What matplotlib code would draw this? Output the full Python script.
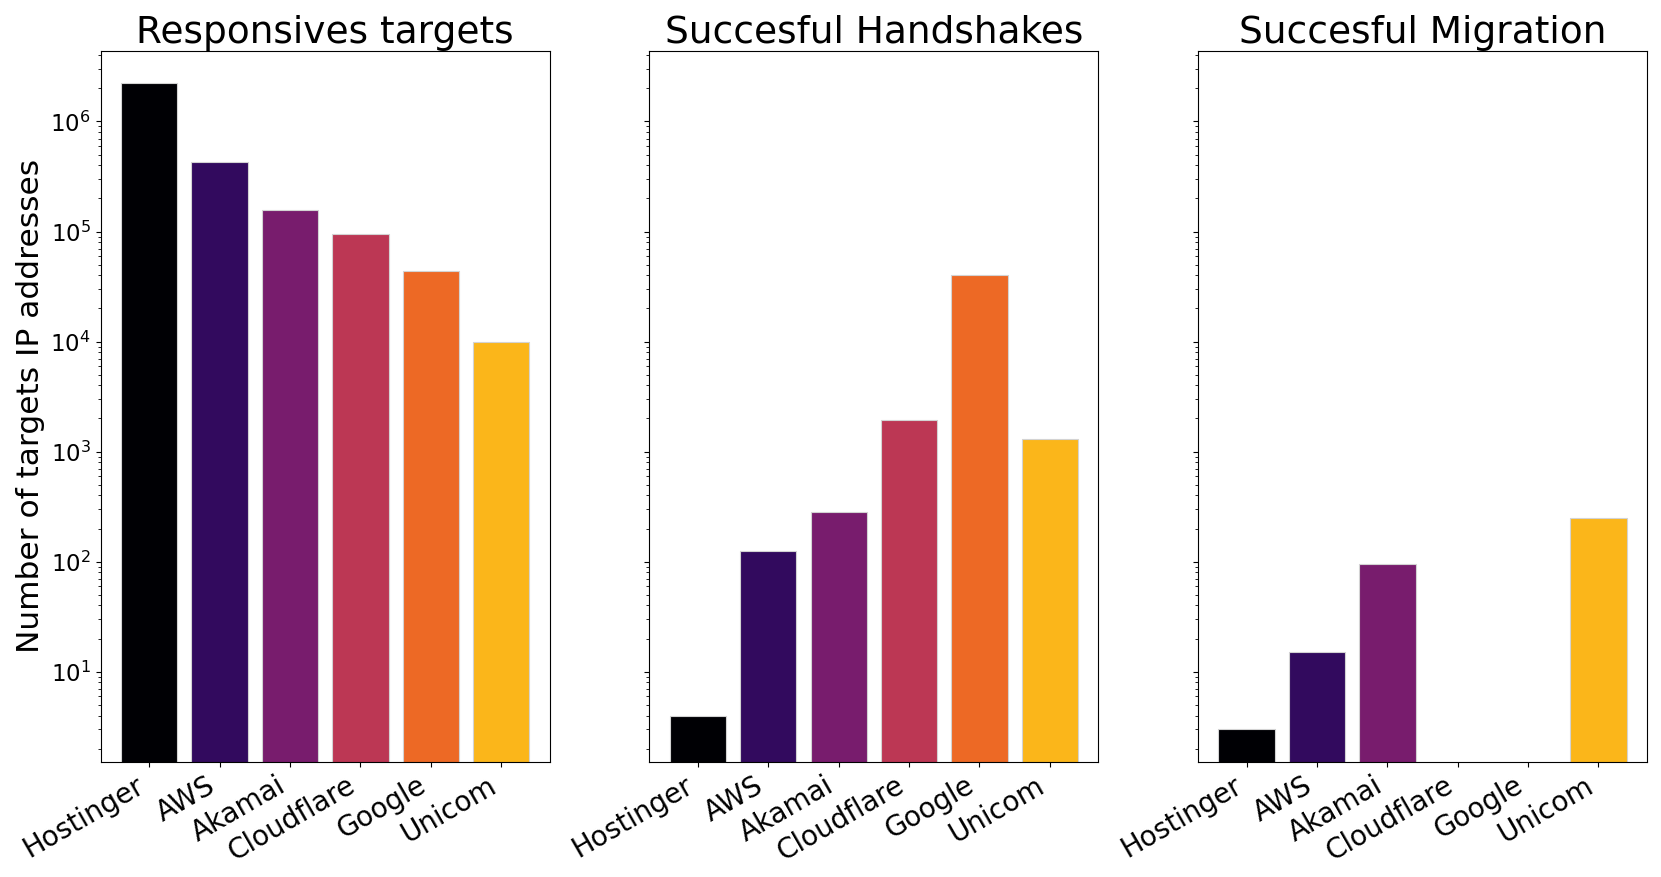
import numpy as np
import matplotlib
matplotlib.use('Agg')
import matplotlib.pyplot as plt

# providers and counts
providers = ['Hostinger', 'AWS', 'Akamai', 'Cloudflare', 'Google', 'Unicom']
responsive = [2220000, 430000, 156000, 94000, 44000, 10000]
handshakes = [4, 125, 283, 1940, 40300, 1305]
migration = [3, 15, 96, 0, 0, 248]

titles = ['Responsives targets', 'Succesful Handshakes', 'Succesful Migration']
series = [responsive, handshakes, migration]

# one inferno colour per provider
colors = plt.cm.inferno(np.linspace(0, 1, 7))[:6]

fig, axes = plt.subplots(1, 3, figsize=(16.61, 8.77), dpi=100, sharey=True)
fig.subplots_adjust(left=0.0606, right=0.9916, bottom=0.1316, top=0.9418, wspace=0.222)

for ax, title, values in zip(axes, titles, series):
    ax.bar(providers, values, color=colors, edgecolor='lightgray', linewidth=0.8)
    ax.set_yscale('log')
    ax.set_title(title, fontsize=27)
    ax.tick_params(axis='x', labelsize=20)
    ax.tick_params(axis='y', labelsize=16.5)
    plt.setp(ax.get_xticklabels(), rotation=30, ha='right')

axes[0].set_ylabel('Number of targets IP addresses', fontsize=22.5)

plt.savefig('out.png')
